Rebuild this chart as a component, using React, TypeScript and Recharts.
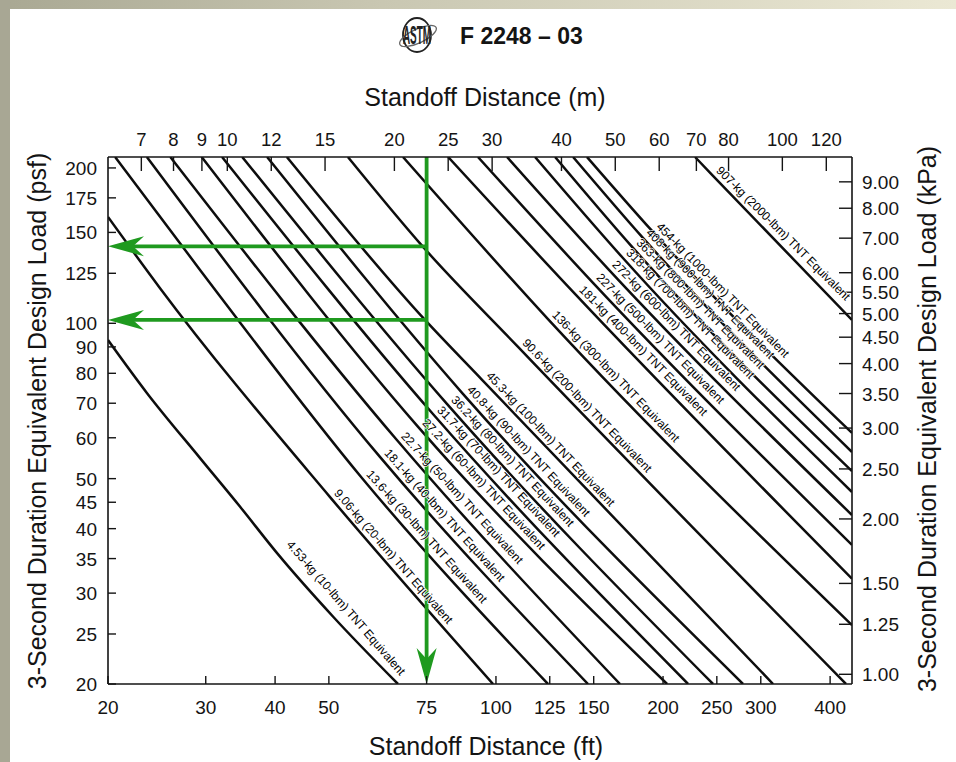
import React from 'react';
import { LineChart, Line, XAxis, YAxis, ReferenceLine } from 'recharts';

// ---------- axes ----------
const FT_TICKS = [20, 30, 40, 50, 75, 100, 125, 150, 200, 250, 300, 400];
const M_TICKS = [7, 8, 9, 10, 12, 15, 20, 25, 30, 40, 50, 60, 70, 80, 100, 120];
const PSF_TICKS = [20, 25, 30, 35, 40, 45, 50, 60, 70, 80, 90, 100, 125, 150, 175, 200];
const KPA_TICKS = [1.0, 1.25, 1.5, 2.0, 2.5, 3.0, 3.5, 4.0, 4.5, 5.0, 5.5, 6.0, 7.0, 8.0, 9.0];

const FT_DOMAIN: [number, number] = [20, 438];
const PSF_DOMAIN: [number, number] = [20, 210];
const M_PER_FT = 0.3048;
const KPA_PER_PSF = 0.0478803;

// ---------- charge curves: [standoff ft, load psf] ----------
const W_4_53 = [[20, 92.8], [23.5, 73.3], [29.3, 54.8], [34.6, 44.1], [40.3, 35.9], [50.9, 27.0], [66.6, 20]];
const W_9_06 = [[20, 160.7], [24.8, 117.1], [50.2, 46.1], [98.8, 20]];
const W_13_6 = [[20.6, 210], [29.3, 126.9], [57.4, 50.1], [124.1, 20]];
const W_18_1 = [[23.5, 210], [61.8, 55.1], [146.5, 20]];
const W_22_7 = [[25.9, 210], [66.3, 59.4], [167.3, 20]];
const W_27_2 = [[29.5, 210], [72.4, 63.0], [203.4, 20]];
const W_31_7 = [[32.1, 210], [77.0, 66.7], [221.9, 20]];
const W_36_2 = [[34.9, 210], [81.6, 69.8], [246.1, 20]];
const W_40_8 = [[38.7, 210], [87.2, 73.0], [278.7, 20]];
const W_45_3 = [[42.0, 210], [74.5, 101.5], [94.4, 77.7], [315.7, 20]];
const W_90_6 = [[54.1, 210], [73.9, 140.6], [109.6, 90.0], [427.3, 20]];
const W_136 = [[68.0, 210], [124.1, 101.9], [438, 26.0]];
const W_181 = [[82.0, 210], [138.8, 114.0], [438, 32.0]];
const W_227 = [[92.8, 210], [149.0, 120.3], [438, 37.2]];
const W_272 = [[104.7, 210], [159.2, 127.5], [438, 42.5]];
const W_318 = [[117.6, 210], [168.7, 134.4], [438, 47.1]];
const W_363 = [[127.8, 210], [175.9, 140.6], [438, 51.7]];
const W_408 = [[137.7, 210], [183.3, 147.0], [438, 56.3]];
const W_454 = [[145.9, 210], [191.1, 151.0], [438, 61.3]];
const W_907 = [[228.4, 210], [245.1, 193.9], [438, 101.5]];

const CHARGE_CURVES = [
  W_4_53, W_9_06, W_13_6, W_18_1, W_22_7, W_27_2, W_31_7, W_36_2, W_40_8, W_45_3,
  W_90_6, W_136, W_181, W_227, W_272, W_318, W_363, W_408, W_454, W_907,
];

const CHARGE_LABELS = [
  '4.53-kg (10-lbm) TNT Equivalent',
  '9.06-kg (20-lbm) TNT Equivalent',
  '13.6-kg (30-lbm) TNT Equivalent',
  '18.1-kg (40-lbm) TNT Equivalent',
  '22.7-kg (50-lbm) TNT Equivalent',
  '27.2-kg (60-lbm) TNT Equivalent',
  '31.7-kg (70-lbm) TNT Equivalent',
  '36.2-kg (80-lbm) TNT Equivalent',
  '40.8-kg (90-lbm) TNT Equivalent',
  '45.3-kg (100-lbm) TNT Equivalent',
  '90.6-kg (200-lbm) TNT Equivalent',
  '136-kg (300-lbm) TNT Equivalent',
  '181-kg (400-lbm) TNT Equivalent',
  '227-kg (500-lbm) TNT Equivalent',
  '272-kg (600-lbm) TNT Equivalent',
  '318-kg (700-lbm) TNT Equivalent',
  '363-kg (800-lbm) TNT Equivalent',
  '408-kg (900-lbm) TNT Equivalent',
  '454-kg (1000-lbm) TNT Equivalent',
  '907-kg (2000-lbm) TNT Equivalent',
];

// which point of each curve the label starts at
const LABEL_POINT = [4, 2, 2, 1, 1, 1, 1, 1, 1, 2, 2, 1, 1, 1, 1, 1, 1, 1, 1, 1];

// worked example (green arrows)
const EXAMPLE_FT = 75;
const EXAMPLE_PSF = [141, 101.5];

// ---------- styles ----------
const LABEL_ANGLE = [49, 49, 48, 48, 47.5, 47, 47, 47, 47, 46.5, 46, 46, 45.5, 45.5, 45.5, 45.5, 45.5, 45.5, 45.5, 45];
const LABEL_GAP = [12, 5, 5, 5, 5, 5, 5, 5, 5, 5, 5, 5, 5, 5, 5, 5, 5, 5, 5, 5];
const GREEN = '#1f9a1f';
const INK = '#141414';
const FONT = '"Liberation Sans", Arial, Helvetica, sans-serif';

const curveData = CHARGE_CURVES.map((c) => c.map(([ft, psf]) => ({ ft, psf })));
const frameData = [
  { m: FT_DOMAIN[0] * M_PER_FT, kpa: PSF_DOMAIN[0] * KPA_PER_PSF },
  { m: FT_DOMAIN[1] * M_PER_FT, kpa: PSF_DOMAIN[1] * KPA_PER_PSF },
];

const BottomTick = (p: any) => {
  const { x, y, payload } = p;
  return (
    <g>
      <line x1={x} y1={y} x2={x} y2={y - 8} stroke={INK} strokeWidth={1.4} />
      <text x={x} y={y + 30} textAnchor="middle" fontSize={19} fill={INK} fontFamily={FONT}>
        {payload.value}
      </text>
    </g>
  );
};

const TopTick = (p: any) => {
  const { x, y, payload } = p;
  return (
    <g>
      <line x1={x} y1={y} x2={x} y2={y + 14} stroke={INK} strokeWidth={1.4} />
      <text x={x} y={y - 11} textAnchor="middle" fontSize={18.5} fill={INK} fontFamily={FONT}>
        {payload.value}
      </text>
    </g>
  );
};

const LeftTick = (p: any) => {
  const { x, y, payload } = p;
  return (
    <g>
      <line x1={x} y1={y} x2={x + 8} y2={y} stroke={INK} strokeWidth={1.4} />
      <text x={x - 11} y={y + 7} textAnchor="end" fontSize={19} fill={INK} fontFamily={FONT}>
        {payload.value}
      </text>
    </g>
  );
};

const RightTick = (p: any) => {
  const { x, y, payload } = p;
  return (
    <g>
      <line x1={x} y1={y} x2={x - 13} y2={y} stroke={INK} strokeWidth={1.4} />
      <text x={x + 10} y={y + 7} textAnchor="start" fontSize={19} fill={INK} fontFamily={FONT}>
        {Number(payload.value).toFixed(2)}
      </text>
    </g>
  );
};

const makeLabel = (i: number) => (props: any) => {
  const idx = LABEL_POINT[i];
  const isIt =
    props.index !== undefined ? props.index === idx : props.value === CHARGE_CURVES[i][idx][1];
  if (!isIt) return null;
  const vb = props.viewBox || {};
  const x = props.x ?? vb.x;
  const y = props.y ?? vb.y;
  if (x == null || y == null) return null;
  return (
    <text
      key={`lab-${i}`}
      x={x}
      y={y}
      dy={-LABEL_GAP[i]}
      transform={`rotate(${LABEL_ANGLE[i]} ${x} ${y})`}
      fontSize={12}
      fill="#000"
      fontFamily={FONT}
      stroke="#fff"
      strokeWidth={1.4}
      paintOrder="stroke"
    >
      {CHARGE_LABELS[i]}
    </text>
  );
};

const Arrow = (p: any) => {
  const { x1, y1, x2, y2 } = p;
  if ([x1, y1, x2, y2].some((v) => v == null || isNaN(v))) return null;
  const dx = x2 - x1;
  const dy = y2 - y1;
  const len = Math.hypot(dx, dy) || 1;
  const ux = dx / len;
  const uy = dy / len;
  const nx = -uy;
  const ny = ux;
  const L = 36;
  const W = 10;
  const N = 11;
  const bx = x2 - ux * L;
  const by = y2 - uy * L;
  const qx = x2 - ux * (L - N);
  const qy = y2 - uy * (L - N);
  const pts = [
    [x2, y2],
    [bx + nx * W, by + ny * W],
    [qx, qy],
    [bx - nx * W, by - ny * W],
  ]
    .map((q) => q.join(','))
    .join(' ');
  return (
    <g>
      <line x1={x1} y1={y1} x2={qx} y2={qy} stroke={GREEN} strokeWidth={3.8} />
      <polygon points={pts} fill={GREEN} />
    </g>
  );
};

export default function App() {
  return (
    <div
      style={{
        position: 'absolute',
        left: 0,
        top: 0,
        width: 956,
        height: 762,
        background: '#ffffff',
        overflow: 'hidden',
        fontFamily: FONT,
      }}
    >
      <div style={{ position: 'absolute', left: 0, top: 0, width: 956, height: 9, background: 'linear-gradient(90deg,#a9a893,#c9c7b2 40%,#ebe8d4)' }} />
      <div style={{ position: 'absolute', left: 0, top: 0, width: 10, height: 762, background: '#a8a794' }} />

      <svg width={956} height={762} style={{ position: 'absolute', left: 0, top: 0 }}>
        {/* ASTM emblem */}
        <g>
          <ellipse cx={417} cy={35} rx={14} ry={17} fill="none" stroke="#222" strokeWidth={1.8} />
          <ellipse cx={418} cy={36} rx={20} ry={7} fill="none" stroke="#666" strokeWidth={1.3} transform="rotate(-25 418 36)" />
          <text
            x={417}
            y={35}
            textAnchor="middle"
            fontSize={11}
            fontWeight="bold"
            fill="#222"
            fontFamily={FONT}
            transform="translate(417 35) scale(0.9 2.3) translate(-417 -31)"
          >
            ASTM
          </text>
        </g>
        <text x={460} y={44} fontSize={23} fontWeight="bold" fill={INK} fontFamily={FONT}>
          F 2248 – 03
        </text>
        <text x={485} y={106} textAnchor="middle" fontSize={25} fill={INK} fontFamily={FONT}>
          Standoff Distance (m)
        </text>
        <text x={486} y={755} textAnchor="middle" fontSize={25} fill={INK} fontFamily={FONT}>
          Standoff Distance (ft)
        </text>
        <text transform="translate(46 421) rotate(-90)" textAnchor="middle" fontSize={25} fill={INK} fontFamily={FONT}>
          3-Second Duration Equivalent Design Load (psf)
        </text>
        <text transform="translate(936 419) rotate(-90)" textAnchor="middle" fontSize={25} fill={INK} fontFamily={FONT}>
          3-Second Duration Equivalent Design Load (kPa)
        </text>
      </svg>

      <div style={{ position: 'absolute', left: 0, top: 0 }}>
        <LineChart width={956} height={762} margin={{ top: 127, right: 44, bottom: 48, left: 48 }}>
          <XAxis
            xAxisId="ft"
            dataKey="ft"
            type="number"
            scale="log"
            domain={FT_DOMAIN}
            allowDataOverflow
            ticks={FT_TICKS}
            interval={0}
            orientation="bottom"
            height={30}
            tickSize={0}
            tickMargin={0}
            tickLine={false}
            tick={<BottomTick />}
            axisLine={{ stroke: INK, strokeWidth: 1.6 }}
          />
          <XAxis
            xAxisId="m"
            dataKey="m"
            type="number"
            scale="log"
            domain={[FT_DOMAIN[0] * M_PER_FT, FT_DOMAIN[1] * M_PER_FT]}
            allowDataOverflow
            ticks={M_TICKS}
            interval={0}
            orientation="top"
            height={30}
            tickSize={0}
            tickMargin={0}
            tickLine={false}
            tick={<TopTick />}
            axisLine={{ stroke: INK, strokeWidth: 1.6 }}
          />
          <YAxis
            yAxisId="psf"
            type="number"
            scale="log"
            domain={PSF_DOMAIN}
            allowDataOverflow
            ticks={PSF_TICKS}
            interval={0}
            orientation="left"
            width={60}
            tickSize={0}
            tickMargin={0}
            tickLine={false}
            tick={<LeftTick />}
            axisLine={{ stroke: INK, strokeWidth: 1.6 }}
          />
          <YAxis
            yAxisId="kpa"
            type="number"
            scale="log"
            domain={[PSF_DOMAIN[0] * KPA_PER_PSF, PSF_DOMAIN[1] * KPA_PER_PSF]}
            allowDataOverflow
            ticks={KPA_TICKS}
            interval={0}
            orientation="right"
            width={60}
            tickSize={0}
            tickMargin={0}
            tickLine={false}
            tick={<RightTick />}
            axisLine={{ stroke: INK, strokeWidth: 1.6 }}
          />

          <Line
            xAxisId="m"
            yAxisId="kpa"
            data={frameData}
            dataKey="kpa"
            stroke="none"
            dot={false}
            activeDot={false}
            isAnimationActive={false}
            legendType="none"
          />

          {curveData.map((d, i) => (
            <Line
              key={CHARGE_LABELS[i]}
              xAxisId="ft"
              yAxisId="psf"
              data={d}
              dataKey="psf"
              type="monotone"
              stroke="#0d0d0d"
              strokeWidth={2.5}
              dot={false}
              activeDot={false}
              isAnimationActive={false}
              label={makeLabel(i)}
            />
          ))}

          <ReferenceLine
            xAxisId="ft"
            yAxisId="psf"
            segment={[
              { x: EXAMPLE_FT, y: PSF_DOMAIN[1] },
              { x: EXAMPLE_FT, y: PSF_DOMAIN[0] },
            ]}
            shape={<Arrow />}
          />
          {EXAMPLE_PSF.map((v) => (
            <ReferenceLine
              key={v}
              xAxisId="ft"
              yAxisId="psf"
              segment={[
                { x: EXAMPLE_FT, y: v },
                { x: FT_DOMAIN[0], y: v },
              ]}
              shape={<Arrow />}
            />
          ))}
        </LineChart>
      </div>
    </div>
  );
}
